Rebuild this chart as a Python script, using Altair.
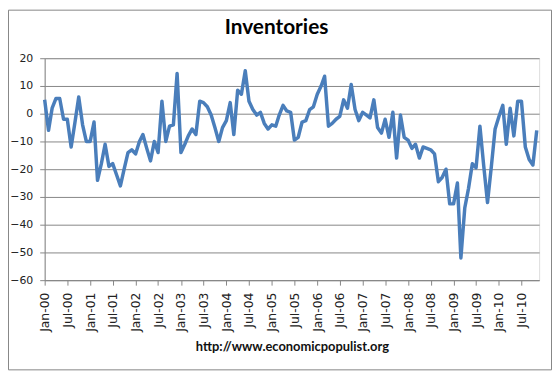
import altair as alt
import pandas as pd

# Monthly values, Jan-2000 .. Nov-2010
values = [
    5, -6, 2, 5.5, 5.5, -2, -2, -12, -3, 6, -4, -10,
    -10, -3, -24, -18, -11, -19, -18, -22, -26, -20, -14, -13,
    -14.5, -10, -7.5, -12.5, -17, -10, -14, 4.5, -10, -4.5, -4, 14.5,
    -14, -11, -8, -5.5, -7.5, 4.5, 4, 2.5, -0.5, -5, -10, -5,
    -2.5, 4, -7.5, 8.5, 7, 15.5, 4.5, 1.5, -0.5, 0.5, -3.5, -5.5,
    -4, -4.5, -0.5, 3, 1, 0.5, -9.5, -8.5, -3, -2.5, 1.5, 2.5,
    7, 10, 13.5, -4.5, -3.5, -2, -1, 5, 2, 10.5, 1.5, -2.5,
    0.5, -0.5, -1.5, 5, -5, -7, -2, -8.5, 0.5, -16, -0.5, -8.5,
    -9.5, -12.5, -11, -16, -12, -12.5, -13, -14.5, -24.5, -23, -20, -32.5,
    -32.5, -25, -52, -34, -27, -18, -19.5, -4.5, -19, -32, -19, -5.5,
    -1, 3, -11, 2, -8, 4.5, 4.5, -12, -16.5, -18.5, -6,
]
start_month = "2000-01-01"
y_ticks = [-60, -50, -40, -30, -20, -10, 0, 10, 20]
chart_title = ["Inventories"]
source_note = "http://www.economicpopulist.org"

dates = pd.date_range(start_month, periods=len(values), freq="MS")
df = pd.DataFrame({"date": dates, "value": values})

grey = "#868686"
label_font = "DejaVu Sans"

line = alt.Chart(df).mark_line(color="#4a7ebb", strokeWidth=3.5, strokeJoin="round").encode(
    x=alt.X(
        "date:T",
        scale=alt.Scale(domain=[alt.DateTime(year=2000, month=1, date=1),
                                alt.DateTime(year=2010, month=11, date=20)]),
        axis=alt.Axis(
            format="%b-%y",
            tickCount={"interval": "month", "step": 6},
            labelAngle=-90,
            labelFont=label_font,
            labelFontSize=12.5,
            labelColor="#222222",
            labelPadding=7,
            labelOverlap=False,
            labelFlush=False,
            grid=False,
            domainColor=grey,
            tickColor=grey,
            tickSize=5,
            title=source_note,
            titleFont="Lato",
            titleFontSize=13,
            titleFontWeight="bold",
            titleColor="#111111",
            titlePadding=9,
        ),
    ),
    y=alt.Y(
        "value:Q",
        scale=alt.Scale(domain=[-60, 20], nice=False, zero=False),
        axis=alt.Axis(
            values=y_ticks,
            labelFont=label_font,
            labelFontSize=11,
            labelColor="#222222",
            labelPadding=7,
            grid=True,
            gridColor=grey,
            gridWidth=1,
            domainColor=grey,
            tickColor=grey,
            tickSize=5,
            title=None,
        ),
    ),
)

frame = alt.Chart(pd.DataFrame({"k": [0]})).mark_rect(
    fill=None, stroke=grey, strokeWidth=1, clip=False
).encode(
    x=alt.value(-36.5), x2=alt.value(511.5), y=alt.value(-48.5), y2=alt.value(314.5)
)

title = alt.Chart(pd.DataFrame({"t": chart_title})).mark_text(
    font="Lato", fontSize=21, fontWeight="bold", color="#000000",
    align="center", baseline="alphabetic",
).encode(text="t:N", x=alt.value(234), y=alt.value(-24))

chart = alt.layer(frame, line, title).properties(
    width=499,
    height=224,
    autosize=alt.AutoSizeParams(type="none"),
    padding={"left": 37, "top": 49, "right": 13, "bottom": 92},
).configure_view(stroke=None).configure(background="white")

chart.save("out.html", embed_options={"renderer": "svg", "actions": False})
